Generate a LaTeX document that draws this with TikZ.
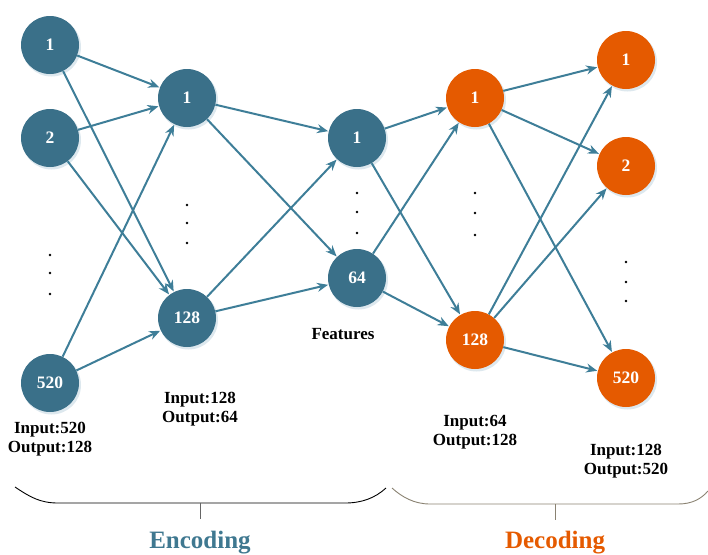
\documentclass[tikz,border=0pt]{standalone}
\usepackage{fontspec}
\setmainfont{Liberation Serif}
\usetikzlibrary{arrows.meta}
\definecolor{encfill}{HTML}{3A7089}
\definecolor{decfill}{HTML}{E55A00}
\definecolor{edgecol}{HTML}{3E7E98}
\definecolor{shadowcol}{HTML}{DDE8EE}
\definecolor{enctext}{HTML}{3F7890}
\definecolor{braceR}{HTML}{8A8272}
\tikzset{
  neuron/.style={circle, minimum size=58pt, inner sep=0pt, text=white,
    font=\fontsize{17.5}{17.5}\selectfont\bfseries},
  encneuron/.style={neuron, fill=encfill},
  decneuron/.style={neuron, fill=decfill},
  link/.style={draw=edgecol, line width=2pt, -{Stealth[length=11pt,width=9pt]}, shorten >=0.5pt},
  info/.style={align=center, font=\fontsize{17}{19}\selectfont\bfseries, inner sep=0pt},
  vdots/.style={circle, fill=black, inner sep=0pt, minimum size=2.6pt},
  section/.style={font=\fontsize{25}{25}\selectfont\bfseries, inner sep=0pt}
}
\begin{document}
\begin{tikzpicture}[x=1pt,y=-1pt]
\useasboundingbox (0,0) rectangle (708,554);

% soft shadows below the neurons
\foreach \p in {(50,45),(50,138),(50,383),(187,98),(187,318),(357,138),(357,278),(475,98),(475,340),(626,60),(626,166),(626,378)}
  {\fill[shadowcol] \p ++(1.5,2) circle (29.5pt);}

% encoder
\node[encneuron] (a1) at (50,45) {1};
\node[encneuron] (a2) at (50,138) {2};
\node[encneuron] (a3) at (50,383) {520};
\node[encneuron] (b1) at (187,98) {1};
\node[encneuron] (b2) at (187,318) {128};
\node[encneuron] (c1) at (357,138) {1};
\node[encneuron] (c2) at (357,278) {64};
% decoder
\node[decneuron] (d1) at (475,98) {1};
\node[decneuron] (d2) at (475,340) {128};
\node[decneuron] (e1) at (626,60) {1};
\node[decneuron] (e2) at (626,166) {2};
\node[decneuron] (e3) at (626,378) {520};

% connections
\foreach \s in {a1,a2,a3} \foreach \t in {b1,b2} \draw[link] (\s) -- (\t);
\foreach \s in {b1,b2} \foreach \t in {c1,c2} \draw[link] (\s) -- (\t);
\foreach \s in {c1,c2} \foreach \t in {d1,d2} \draw[link] (\s) -- (\t);
\foreach \s in {d1,d2} \foreach \t in {e1,e2,e3} \draw[link] (\s) -- (\t);

% ellipsis dots
\foreach \x/\ys in {50/{255,273,294},187/{205,223,243},357/{193,212,233},475/{193,213,235},626/{262,282,301}}
  \foreach \y in \ys \node[vdots] at (\x,\y) {};

% layer descriptions
\node[info] (la) at (50,439) {Input:520\\Output:128};
\node[info] (lb) at (200,409) {Input:128\\Output:64};
\node[info] (lf) at (343,334) {Features};
\node[info] (ld) at (475,432) {Input:64\\Output:128};
\node[info] (le) at (626,461) {Input:128\\Output:520};

% grouping brackets
\draw[black, line width=0.9pt] (15,487) .. controls (30,497) and (40,503) .. (58,503) -- (345,503)
  .. controls (362,503) and (375,498) .. (386,488);
\draw[gray!80!black, line width=1pt] (200,503) -- (200,519);
\draw[braceR, line width=0.9pt] (392,488) .. controls (402,497) and (414,504) .. (430,504) -- (678,504)
  .. controls (692,504) and (701,499) .. (708,491);
\draw[braceR, line width=1pt] (555,504) -- (555,520);

\node[section, text=enctext] (enc) at (200,543) {Encoding};
\node[section, text=decfill] (dec) at (555,543) {Decoding};
\end{tikzpicture}
\end{document}
